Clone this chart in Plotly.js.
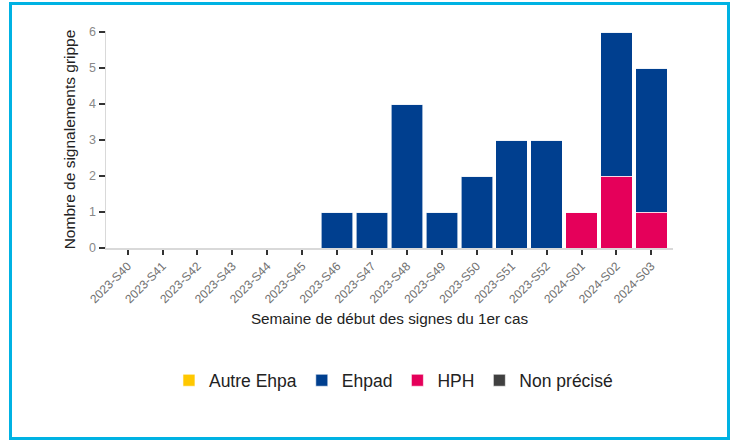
<!DOCTYPE html>
<html>
<head>
<meta charset="utf-8">
<script src="https://cdn.plot.ly/plotly-3.0.1.min.js"></script>
<style>
  html, body { margin: 0; padding: 0; background: #fff; }
  #wrap { position: relative; width: 735px; height: 441px; }
  #chart { position: absolute; left: 0; top: 0; width: 735px; height: 441px; }
  #frame { position: absolute; left: 9px; top: 2px; width: 721px; height: 438px;
           border: 3px solid #00B2E3; box-sizing: border-box; pointer-events: none; }
</style>
</head>
<body>
<div id="wrap">
  <div id="chart"></div>
  <div id="frame"></div>
</div>
<script>
const weeks = ["2023-S40","2023-S41","2023-S42","2023-S43","2023-S44","2023-S45","2023-S46","2023-S47",
               "2023-S48","2023-S49","2023-S50","2023-S51","2023-S52","2024-S01","2024-S02","2024-S03"];
const autreEhpa = [0,0,0,0,0,0,0,0,0,0,0,0,0,0,0,0];
const ehpad     = [0,0,0,0,0,0,1,1,4,1,2,3,3,0,4,4];
const hph       = [0,0,0,0,0,0,0,0,0,0,0,0,0,1,2,1];
const nonPrecise= [0,0,0,0,0,0,0,0,0,0,0,0,0,0,0,0];

const colors = { autre: "#FFC800", ehpad: "#003F8F", hph: "#E5005A", non: "#404040" };
const line = { color: "rgba(255,255,255,0.6)", width: 1 };

const traces = [
  { type: "bar", name: "HPH", x: weeks, y: hph, marker: { color: colors.hph, line }, legendrank: 3 },
  { type: "bar", name: "Ehpad", x: weeks, y: ehpad, marker: { color: colors.ehpad, line }, legendrank: 2 },
  { type: "bar", name: "Autre Ehpa", x: weeks, y: autreEhpa, marker: { color: colors.autre, line }, legendrank: 1 },
  { type: "bar", name: "Non précisé", x: weeks, y: nonPrecise, marker: { color: colors.non, line }, legendrank: 4 }
];

const layout = {
  width: 735, height: 441,
  margin: { l: 106, r: 62, t: 31, b: 193 },
  paper_bgcolor: "#fff", plot_bgcolor: "#fff",
  font: { family: "Liberation Sans, Arial, sans-serif", color: "#222" },
  barmode: "stack",
  bargap: 0.1,
  showlegend: true,
  legend: {
    orientation: "h", x: 0.507, xanchor: "center", y: -0.61, yanchor: "middle",
    font: { size: 17.5, color: "#222" }, traceorder: "normal"
  },
  xaxis: {
    type: "category",
    range: [-0.62, 15.62],
    tickangle: -45,
    tickfont: { size: 12, color: "#6f6f6f" },
    ticks: "outside", ticklen: 5, tickwidth: 2, tickcolor: "#333",
    showline: true, linecolor: "#d9d9d9", linewidth: 1.5,
    showgrid: false, zeroline: false,
    title: { text: "Semaine de début des signes du 1er cas", font: { size: 15.3, color: "#222" }, standoff: 8 }
  },
  yaxis: {
    range: [0, 6.03],
    dtick: 1,
    tickfont: { size: 12.5, color: "#888" },
    ticks: "outside", ticklen: 6, tickwidth: 2, tickcolor: "#333",
    showline: true, linecolor: "#d9d9d9", linewidth: 1.5,
    showgrid: false, zeroline: false,
    title: { text: "Nombre de signalements grippe", font: { size: 15.5, color: "#222" }, standoff: 9 }
  }
};

Plotly.newPlot("chart", traces, layout, { displayModeBar: false, staticPlot: true });
</script>
</body>
</html>
